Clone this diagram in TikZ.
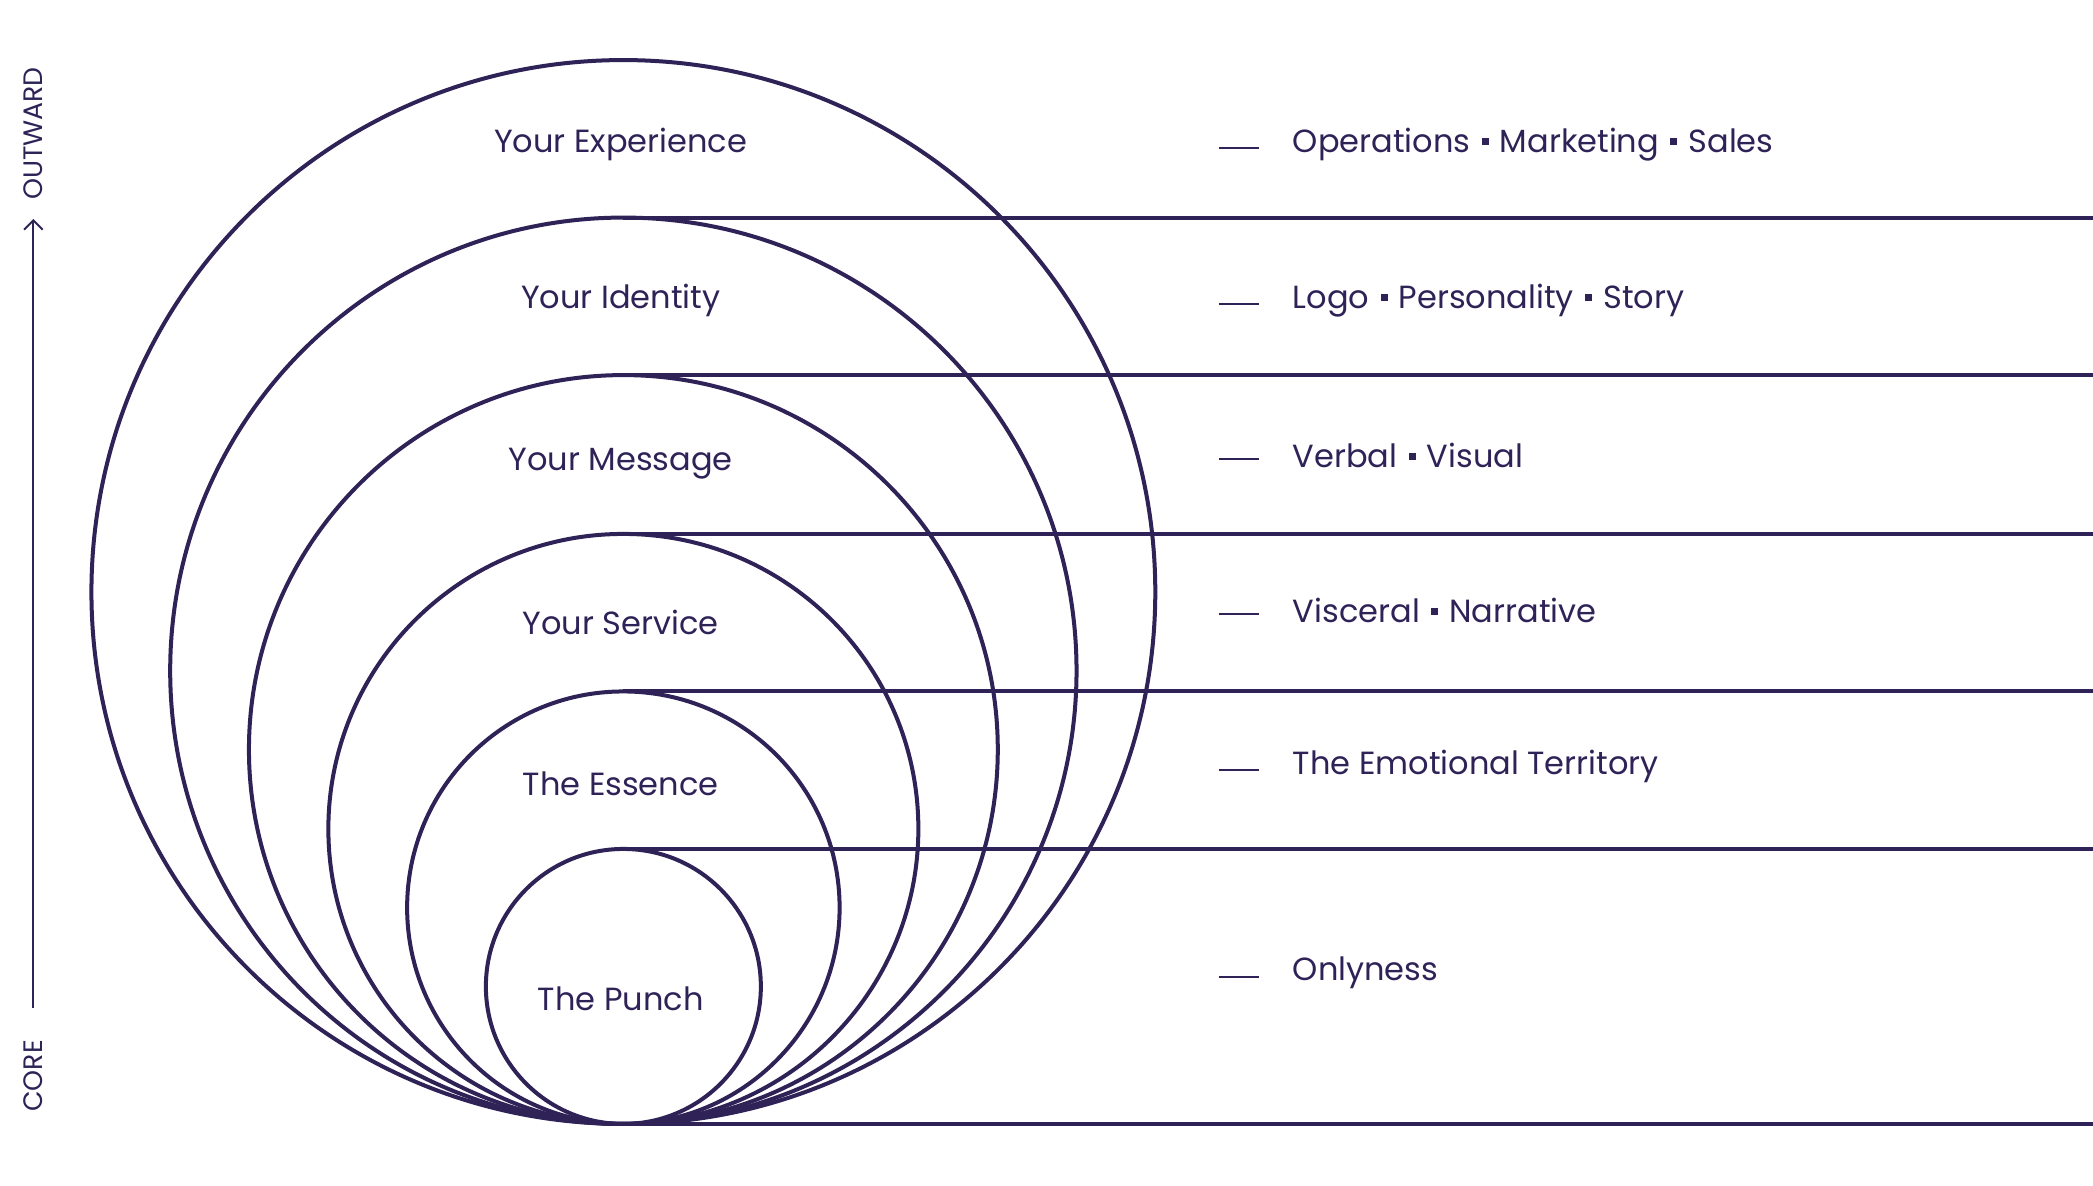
\documentclass[tikz,border=0pt]{standalone}
\usepackage{fontspec}
\setmainfont{Poppins}
\usetikzlibrary{arrows.meta}
\definecolor{ink}{HTML}{2E2257}
\newcommand{\dotsep}{\hspace{0.35em}\raisebox{0.22em}{\rule{0.22em}{0.22em}}\hspace{0.35em}}
\begin{document}
\begin{tikzpicture}[x=1pt,y=-1pt,
  ring/.style={draw=ink,line width=3pt},
  band/.style={draw=ink,line width=3pt},
  lab/.style={text=ink,font=\fontsize{24}{28}\selectfont,anchor=center},
  rlab/.style={text=ink,font=\fontsize{24}{28}\selectfont,anchor=west},
  tick/.style={draw=ink,line width=1.5pt},
  axis/.style={text=ink,font=\fontsize{20}{24}\selectfont,rotate=90,inner sep=0pt}]
\useasboundingbox (0,0) rectangle (1568,888);
\foreach \r in {398.5,339.5,280.5,221,162,103}{
  \draw[ring] (467,842-\r) circle[radius=\r];
}
\foreach \y/\n in {163/a,281/b,400/c,518/d,636/e,842/f}{
  \coordinate (L\n) at (467,\y); \coordinate (R\n) at (1568,\y);
  \draw[band] (L\n) -- (R\n);
}
\node[lab] (t1) at (465,108) {Your Experience};
\node[lab] (t2) at (465,225) {Your Identity};
\node[lab] (t3) at (465,347) {Your Message};
\node[lab] (t4) at (465,466) {Your Service};
\node[lab] (t5) at (465,587) {The Essence};
\node[lab] (t6) at (465,748) {The Punch};
\foreach \y/\t [count=\k] in {108/{Operations\dotsep Marketing\dotsep Sales},225/{Logo\dotsep Personality\dotsep Story},341/{Verbal\dotsep Visual},457/{Visceral\dotsep Narrative},574/{The Emotional Territory},729/{Onlyness}}{
  \coordinate (d\k a) at (913,\y+3); \coordinate (d\k b) at (943,\y+3);
  \draw[tick] (d\k a) -- (d\k b);
  \node[rlab] (r\k) at (965,\y) {\t};
}
\node[axis,anchor=west] (core) at (25,833) {CORE};
\node[axis,anchor=west] (out) at (25,150) {OUTWARD};
\coordinate (a0) at (25,755);
\coordinate (a1) at (25,164);
\draw[ink,line width=1.5pt,-{Straight Barb[length=7pt,width=14pt]}] (a0) -- (a1);
\end{tikzpicture}
\end{document}
